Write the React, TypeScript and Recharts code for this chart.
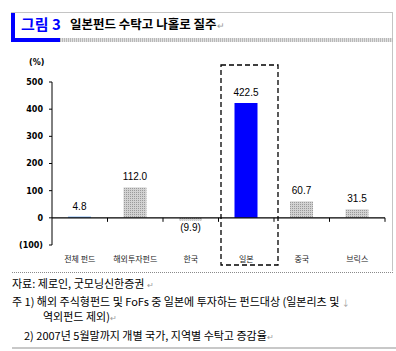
import { BarChart, Bar, XAxis, YAxis, ReferenceLine, LabelList, Cell } from 'recharts';

// 2007년 5월말까지 국가/지역별 수탁고 증감율 (%)
const categories = ['전체 펀드', '해외투자펀드', '한국', '일본', '중국', '브릭스'];
const growth = [4.8, 112.0, -9.9, 422.5, 60.7, 31.5];
const yTicks = [-100, 0, 100, 200, 300, 400, 500];

const titleTag = '그림 3';
const titleText = '일본펀드 수탁고 나홀로 질주';
const sourceNote = '자료: 제로인, 굿모닝신한증권';
const note1a = '주 1) 해외 주식형펀드 및 FoFs 중 일본에 투자하는 펀드대상 (일본리츠 및';
const note1b = '역외펀드 제외)';
const note2 = '2) 2007년 5월말까지 개별 국가, 지역별 수탁고 증감율';

const HIGHLIGHT = '일본';
const TOTAL = '전체 펀드';

const data = categories.map((name, i) => ({ name, value: growth[i] }));

// layout
const W = 396;
const H = 351;
const PLOT_LEFT = 52;
const PLOT_RIGHT = 385;
const PLOT_TOP = 82;
const PLOT_BOTTOM = 245;
const X_AXIS_H = 30;
const Y_MIN = -100;
const Y_MAX = 500;
const BAND = (PLOT_RIGHT - PLOT_LEFT) / categories.length;
const ZERO_Y = PLOT_TOP + ((PLOT_BOTTOM - PLOT_TOP) * Y_MAX) / (Y_MAX - Y_MIN);

const fmt = (v: number) => (v < 0 ? `(${Math.abs(v).toFixed(1)})` : v.toFixed(1));
const fmtTick = (v: number) => (v < 0 ? `(${Math.abs(v)})` : `${v}`);

const CategoryTick = (props: any) => {
  const { x, payload } = props;
  return (
    <g>
      <text
        x={x}
        y={PLOT_BOTTOM + 17}
        textAnchor="middle"
        fontSize={8}
        fontFamily="'Noto Sans CJK KR'"
        fill="#222"
      >
        {payload.value}
      </text>
      <line x1={x + BAND / 2} x2={x + BAND / 2} y1={ZERO_Y} y2={ZERO_Y + 4} stroke="#000" />
    </g>
  );
};

const ValueLabel = (props: any) => {
  const { x, y, width, height, value } = props;
  const top = Math.min(y, y + height);
  const bottom = Math.max(y, y + height);
  const ty = value < 0 ? bottom + 10 : top - 7;
  return (
    <text
      x={x + width / 2}
      y={ty}
      textAnchor="middle"
      fontSize={10}
      fontFamily="'Liberation Sans', Arial"
      fill="#000"
    >
      {fmt(value)}
    </text>
  );
};

const fillFor = (name: string) => {
  if (name === HIGHLIGHT) return '#0000ff';
  if (name === TOTAL) return '#7fb4f5';
  return 'url(#dots)';
};

const abs = (style: any) => ({ position: 'absolute' as const, ...style });

export default function App() {
  return (
    <div style={abs({ left: 0, top: 0, width: W, height: H, background: '#fff', overflow: 'hidden' })}>
      <svg width={0} height={0} style={{ position: 'absolute' }}>
        <defs>
          <pattern id="dots" width={2} height={2} patternUnits="userSpaceOnUse">
            <rect width={2} height={2} fill="#d2d2d2" />
            <rect width={1} height={1} fill="#9a9a9a" />
          </pattern>
        </defs>
      </svg>

      {/* title box */}
      <div style={abs({ left: 11, top: 12, width: 382, height: 1, background: '#c4c4c4' })} />
      <div style={abs({ left: 392, top: 12, width: 1, height: 259, background: '#c4c4c4' })} />
      <div style={abs({ left: 11, top: 13, width: 4, height: 25, background: '#0000ff' })} />
      <div style={abs({ left: 11, top: 38, width: 49, height: 4, background: '#0000ff' })} />
      <div
        style={abs({
          left: 60,
          top: 38,
          width: 333,
          height: 4,
          background: 'repeating-linear-gradient(90deg, #b8b8b8 0 1px, #e2e2e2 1px 2px)',
        })}
      />
      <div
        style={abs({
          left: 21,
          top: 15,
          fontSize: 15,
          fontWeight: 'bold',
          color: '#0000ff',
          fontFamily: "'Noto Sans CJK KR'",
          lineHeight: '18px',
          whiteSpace: 'nowrap',
        })}
      >
        {titleTag}
      </div>
      <div
        style={abs({
          left: 70,
          top: 15,
          fontSize: 12.5,
          fontWeight: 'bold',
          color: '#000',
          fontFamily: "'Noto Sans CJK KR'",
          lineHeight: '18px',
          whiteSpace: 'nowrap',
        })}
      >
        {titleText}
        <span style={{ color: '#999', fontWeight: 'normal', fontSize: 9 }}>↵</span>
      </div>

      {/* unit */}
      <div
        style={abs({
          left: 29,
          top: 58,
          fontSize: 8,
          fontWeight: 'bold',
          fontFamily: "'DejaVu Sans'",
          whiteSpace: 'nowrap',
        })}
      >
        (%)
      </div>

      <div style={abs({ left: 0, top: 0 })}>
        <BarChart
          width={W}
          height={H}
          data={data}
          margin={{ top: PLOT_TOP, right: W - PLOT_RIGHT, bottom: H - PLOT_BOTTOM - X_AXIS_H, left: 10 }}
          barSize={23}
        >
          <XAxis
            dataKey="name"
            height={X_AXIS_H}
            axisLine={false}
            tickLine={false}
            interval={0}
            tick={<CategoryTick />}
          />
          <YAxis
            width={PLOT_LEFT - 10}
            domain={[Y_MIN, Y_MAX]}
            ticks={yTicks}
            interval={0}
            tickFormatter={fmtTick}
            tickSize={3}
            tickMargin={6}
            axisLine={{ stroke: '#000' }}
            tickLine={{ stroke: '#000' }}
            tick={{ fontSize: 8, fontWeight: 'bold', fill: '#000', fontFamily: "'DejaVu Sans'" }}
          />
          <ReferenceLine y={0} stroke="#000" strokeWidth={1.2} />
          <Bar dataKey="value" isAnimationActive={false}>
            {data.map((d) => (
              <Cell key={d.name} fill={fillFor(d.name)} />
            ))}
            <LabelList dataKey="value" content={<ValueLabel />} />
          </Bar>
        </BarChart>
      </div>

      {/* highlight box around 일본 */}
      <svg width={W} height={H} style={{ position: 'absolute', left: 0, top: 0, pointerEvents: 'none' }}>
        <rect
          x={221}
          y={65}
          width={57}
          height={200}
          fill="none"
          stroke="#000"
          strokeWidth={1.3}
          strokeDasharray="5 3"
        />
      </svg>

      {/* notes */}
      <div style={abs({ left: 12, top: 272, width: 381, height: 0, borderTop: '1px dotted #8a8a8a' })} />
      <div
        style={abs({
          left: 12,
          top: 276,
          fontSize: 11,
          fontFamily: "'Noto Sans CJK KR'",
          color: '#000',
          lineHeight: '14px',
          whiteSpace: 'nowrap',
        })}
      >
        <div style={abs({ left: 0, top: 0 })}>
          {sourceNote} <span style={{ color: '#999', fontSize: 8 }}>↵</span>
        </div>
        <div style={abs({ left: 0, top: 18 })}>
          {note1a} <span style={{ color: '#999', fontSize: 8 }}>↓</span>
        </div>
        <div style={abs({ left: 31, top: 33 })}>
          {note1b}
          <span style={{ color: '#999', fontSize: 8 }}>↵</span>
        </div>
        <div style={abs({ left: 12, top: 52 })}>
          {note2}
          <span style={{ color: '#999', fontSize: 8 }}>↵</span>
        </div>
      </div>
      <div style={abs({ left: 12, top: 347, width: 384, height: 2, background: '#c8c8c8' })} />
    </div>
  );
}
